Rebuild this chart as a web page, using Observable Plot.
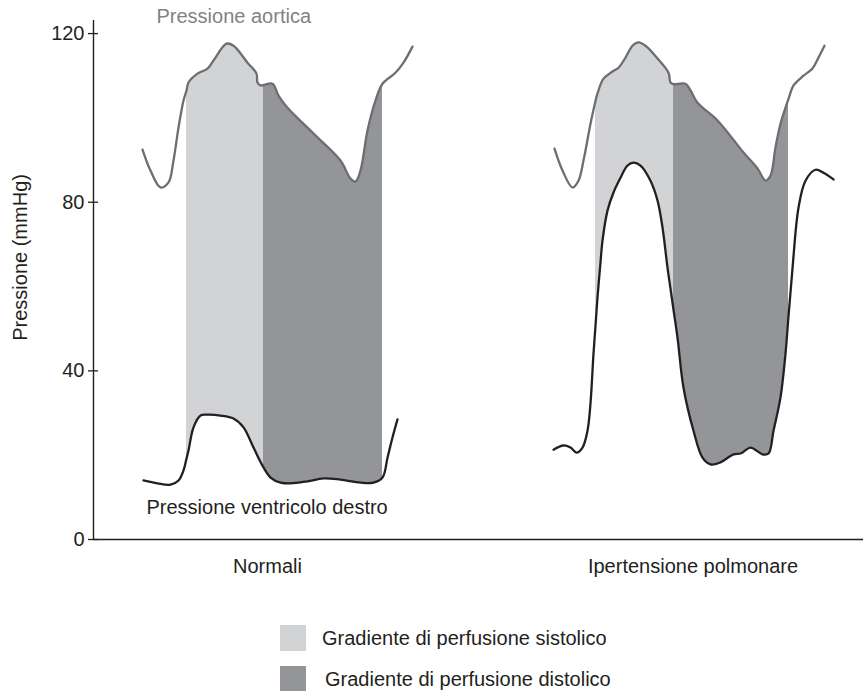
<!DOCTYPE html>
<html><head><meta charset="utf-8">
<script src="https://cdn.jsdelivr.net/npm/d3@7"></script>
<script src="https://cdn.jsdelivr.net/npm/@observablehq/plot@0.6"></script>
<style>
body{margin:0;background:#fff;font-family:"Liberation Sans",Arial,Helvetica,sans-serif;color:#231f20}
#wrap{position:relative;width:863px;height:691px;overflow:hidden}
.leg{position:absolute;display:flex;align-items:center;font-size:20px;line-height:26px;white-space:nowrap}
.sw{width:26px;height:26px;flex:none}
</style></head><body><div id="wrap"><div id="chart"></div></div>
<script>
// ---- data (time units arbitrary, pressure in mmHg) ----
const groupNames = ["Normali", "Ipertensione polmonare"];
const groupLabelT = [174, 599.5];
const yTicks = [0, 40, 80, 120];
const yTitle = "Pressione (mmHg)";
const aortaLabel = "Pressione aortica";
const rvLabel = "Pressione ventricolo destro";
const legendLabels = ["Gradiente di perfusione sistolico", "Gradiente di perfusione distolico"];

// Normali - pressione aortica
const tAortaN = [49,57,67,75,80,85,90,93,95,104,114,120,133,140,154,163,164,167,170,179,185,194,220,247,257,262,267,274,282,289,302,310,319];
const pAortaN = [92.5,87.5,83.5,84.7,89.9,97.7,104.1,106.5,108.4,110.5,111.7,113.6,117.6,117.1,113.1,110.5,108.4,107.7,107.8,108.1,105.3,102.4,96.3,89.9,85.6,84.9,87.5,97.0,104.1,108.1,110.7,113.1,116.9];
// Normali - pressione ventricolo destro
const tRvN = [50,64,77,85,90,93,95,100,107,114,127,140,150,160,170,177,187,197,214,230,247,267,280,289,294,299,304];
const pRvN = [14.0,13.3,13.0,14.0,16.4,19.2,21.1,26.6,29.4,29.6,29.4,28.7,26.6,21.8,17.1,14.7,13.5,13.3,13.8,14.5,14.2,13.5,13.5,14.7,19.4,24.2,28.5];
// Ipertensione polmonare - pressione aortica
const tAortaH = [461,469,479,485,490,497,502,504,510,519,525,532,539,545,552,564,575,577,580,592,597,604,624,650,664,672,677,682,687,695,700,710,719,725,731];
const pAortaH = [92.7,87.5,83.5,85.1,89.9,98.6,104.0,105.8,109.3,111.0,111.9,114.3,117.1,117.9,117.1,114.1,110.7,108.4,108.0,108.1,106.5,103.6,99.4,91.8,88.0,85.1,86.3,93.0,98.6,104.5,107.7,110.0,111.7,114.3,117.1];
// Ipertensione polmonare - pressione ventricolo destro
const tRvH = [460,470,477,483,489,494,497,500,502,504,507,509,514,520,527,534,540,547,557,564,569,574,577,580,584,590,600,609,617,627,640,647,657,669,675,680,687,692,695,699,705,712,722,730,740];
const pRvH = [21.3,22.3,21.8,20.6,21.8,25.8,32.3,44.1,50.7,57.4,65.7,70.9,78.0,82.3,85.8,88.7,89.4,88.7,85.1,80.4,74.0,64.5,59.5,54.5,47.9,36.0,25.8,19.4,17.8,18.3,20.2,20.4,21.8,20.2,20.4,25.8,33.7,44.1,53.0,64.3,78.7,85.1,87.7,87.0,85.4];
// perfusion gradient windows [start, end]
const sysN = [93, 170], diaN = [170, 289];
const sysH = [502, 580], diaH = [580, 695];

// ---- styles ----
const cLight = "#d1d3d4", cDark = "#939598", cAorta = "#6d6e71", cRv = "#231f20", cText = "#231f20";
const curve = "catmull-rom";

const rows = (t, p) => t.map((x, i) => ({t: x, p: p[i]}));
const within = (r, [a, b]) => r.filter(d => d.t >= a && d.t <= b);
const aN = rows(tAortaN, pAortaN), rN = rows(tRvN, pRvN);
const aH = rows(tAortaH, pAortaH), rH = rows(tRvH, pRvH);

const chart = Plot.plot({
  width: 863, height: 600,
  marginLeft: 93, marginRight: 0, marginTop: 20, marginBottom: 61,
  x: {domain: [0, 770], axis: null},
  y: {domain: [0, 123.1], axis: null},
  style: {fontFamily: '"Liberation Sans", Arial, Helvetica, sans-serif', fontSize: "20px", color: cText, background: "#fff"},
  marks: [
    Plot.areaY(within(aN, sysN), {x: "t", y: "p", fill: cLight, curve}),
    Plot.areaY(within(aN, diaN), {x: "t", y: "p", fill: cDark, curve}),
    Plot.areaY(within(aH, sysH), {x: "t", y: "p", fill: cLight, curve}),
    Plot.areaY(within(aH, diaH), {x: "t", y: "p", fill: cDark, curve}),
    Plot.areaY(within(rN, [sysN[0], diaN[1]]), {x: "t", y: "p", fill: "#fff", curve}),
    Plot.areaY(within(rH, [sysH[0], diaH[1]]), {x: "t", y: "p", fill: "#fff", curve}),
    Plot.line(aN, {x: "t", y: "p", stroke: cAorta, strokeWidth: 2.3, curve}),
    Plot.line(aH, {x: "t", y: "p", stroke: cAorta, strokeWidth: 2.3, curve}),
    Plot.line(rN, {x: "t", y: "p", stroke: cRv, strokeWidth: 2.3, curve}),
    Plot.line(rH, {x: "t", y: "p", stroke: cRv, strokeWidth: 2.3, curve}),
    Plot.ruleX([0], {stroke: cText, strokeWidth: 1.4}),
    Plot.ruleY([0], {stroke: cText, strokeWidth: 1.4}),
    Plot.axisY({ticks: yTicks, tickSize: 10, dx: 5, tickPadding: 4, label: null, fontSize: 20, stroke: cText, strokeWidth: 1.3, fill: cText}),
    Plot.text([yTitle], {frameAnchor: "left", y: () => 66.9, dx: -73, rotate: -90, textAnchor: "middle", lineAnchor: "middle", fontSize: 20, fill: cText}),
    Plot.text(groupNames, {x: (d, i) => groupLabelT[i], frameAnchor: "bottom", dy: 33, fontSize: 20, fill: cText}),
    Plot.text([aortaLabel], {x: () => 63, y: () => 124.0, textAnchor: "start", fontSize: 20, fill: "#808285"}),
    Plot.text([rvLabel], {x: () => 53, y: () => 7.6, textAnchor: "start", fontSize: 20, fill: cText})
  ]
});
document.getElementById("chart").appendChild(chart);

// legend (HTML, below the SVG)
const wrap = document.getElementById("wrap");
const legTop = [625, 666], legGap = [16, 19], legColors = [cLight, cDark];
legendLabels.forEach((lab, i) => {
  const row = document.createElement("div");
  row.className = "leg";
  row.style.left = "280px";
  row.style.top = legTop[i] + "px";
  const sw = document.createElement("div");
  sw.className = "sw";
  sw.style.background = legColors[i];
  sw.style.marginRight = legGap[i] + "px";
  const tx = document.createElement("span");
  tx.textContent = lab;
  row.appendChild(sw); row.appendChild(tx);
  wrap.appendChild(row);
});
</script></body></html>
